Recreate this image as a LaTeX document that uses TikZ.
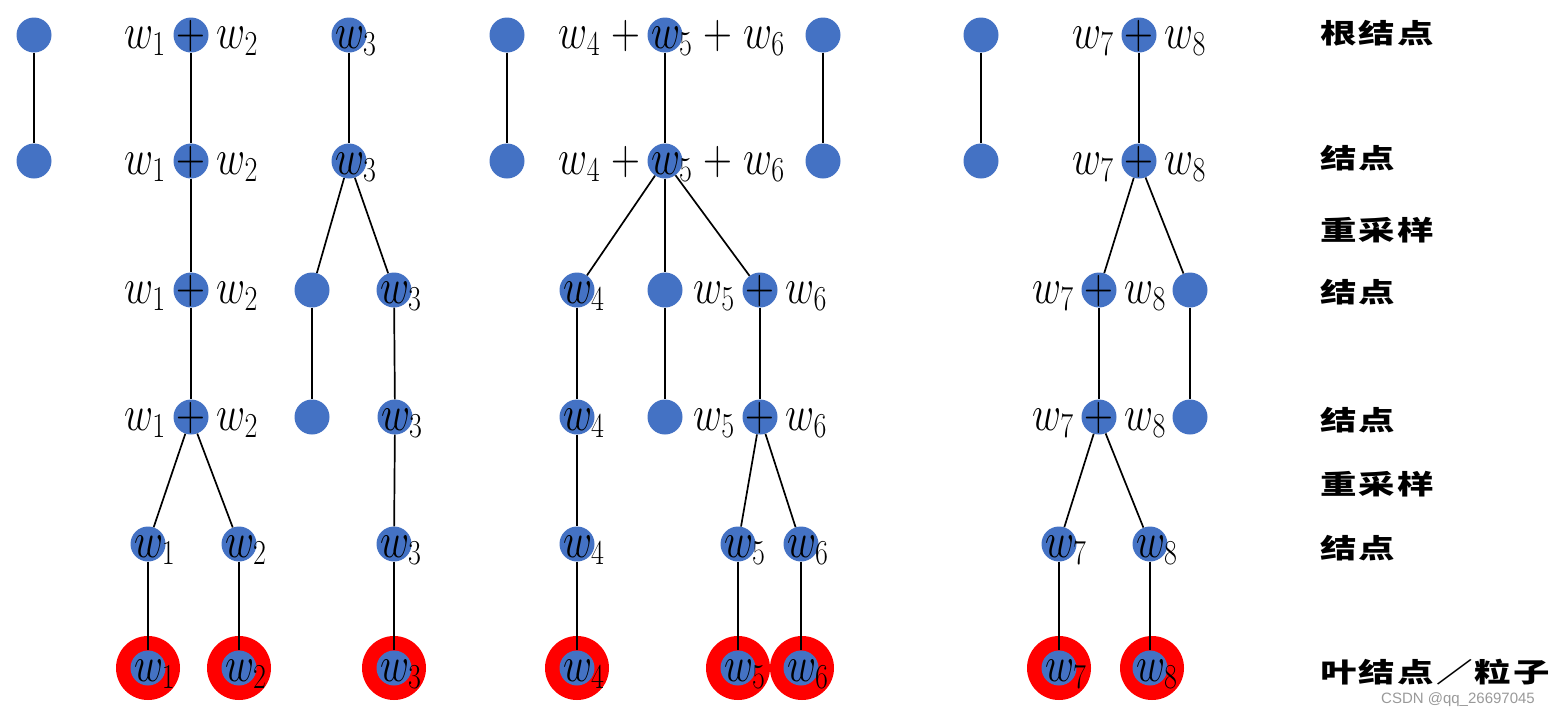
\RequirePackage{fix-cm}
\documentclass[tikz,border=0pt]{standalone}
\usepackage{fontspec}
\newfontfamily\cjk{Noto Sans CJK SC}[FakeStretch=1.35,LetterSpace=8]
\newfontfamily\wmfont{Liberation Sans}
\definecolor{nblue}{HTML}{4472C4}
\definecolor{ringred}{HTML}{FF0000}
\newcommand\sq[1]{\scalebox{0.8}[1]{#1}}
\newcommand\wc[1]{\sq{$\hphantom{{}_{#1}}w_{#1}$}}
\newcommand\pp[2]{\sq{$\medmuskip=5mu w_{#1}+w_{#2}$}}
\newcommand\ppp{\sq{$\medmuskip=5mu\hphantom{{}_5}w_4+w_5+w_6$}}
\tikzset{
  bn/.style={circle,fill=nblue,minimum size=35pt,inner sep=0pt},
  ring/.style={circle,fill=ringred,minimum size=64pt,inner sep=0pt},
  lab/.style={anchor=base,inner sep=0pt,font=\fontsize{50}{58}\selectfont},
  edge/.style={line width=1.7pt,black},
  side/.style={anchor=west,inner sep=0pt,font=\cjk\bfseries\fontsize{27}{30}\selectfont},
  wm/.style={anchor=center,inner sep=0pt,text=black!40,font=\wmfont\fontsize{15}{17}\selectfont}
}
\begin{document}
\begin{tikzpicture}[x=1pt,y=-1pt]
\useasboundingbox (0,0) rectangle (1558,718);
% ---- red rings (leaves)
\foreach \n/\x in {r1/148,r2/239,r3/394,r4/577,r5/738,r6/802,r7/1059,r8/1152}
  \node[ring] (\n) at (\x,668) {};
% ---- column A
\node[bn] (a1) at (34,35) {};
\node[bn] (a2) at (34,161) {};
% ---- column B
\node[bn] (b1) at (191,35) {};
\node[bn] (b2) at (191,161) {};
\node[bn] (b3) at (191,290) {};
\node[bn] (b4) at (191,417) {};
\node[bn] (b5) at (148,544) {};
\node[bn] (b6) at (239,544) {};
\node[bn] (b7) at (148,668) {};
\node[bn] (b8) at (239,668) {};
% ---- column C
\node[bn] (c1) at (349,35) {};
\node[bn] (c2) at (349,161) {};
\node[bn] (c3) at (312,290) {};
\node[bn] (c4) at (394,290) {};
\node[bn] (c5) at (312,417) {};
\node[bn] (c6) at (395,417) {};
\node[bn] (c7) at (394,544) {};
\node[bn] (c8) at (394,668) {};
% ---- column D
\node[bn] (d1) at (507,35) {};
\node[bn] (d2) at (507,161) {};
\node[bn] (e1) at (665,35) {};
\node[bn] (e2) at (665,161) {};
\node[bn] (f1) at (823,35) {};
\node[bn] (f2) at (823,161) {};
\node[bn] (d3) at (577,290) {};
\node[bn] (d4) at (665,290) {};
\node[bn] (d5) at (760,290) {};
\node[bn] (d6) at (577,417) {};
\node[bn] (d7) at (665,417) {};
\node[bn] (d8) at (760,417) {};
\node[bn] (d9) at (577,544) {};
\node[bn] (d10) at (738,544) {};
\node[bn] (d11) at (801,544) {};
\node[bn] (d12) at (577,668) {};
\node[bn] (d13) at (738,668) {};
\node[bn] (d14) at (801,668) {};
% ---- column E
\node[bn] (g1) at (981,35) {};
\node[bn] (g2) at (981,161) {};
\node[bn] (h1) at (1139,35) {};
\node[bn] (h2) at (1139,161) {};
\node[bn] (h3) at (1099,290) {};
\node[bn] (h4) at (1190,290) {};
\node[bn] (h5) at (1099,417) {};
\node[bn] (h6) at (1190,417) {};
\node[bn] (h7) at (1059,544) {};
\node[bn] (h8) at (1150,544) {};
\node[bn] (h9) at (1059,668) {};
\node[bn] (h10) at (1150,668) {};
% ---- connectors
\draw[edge] (a1) -- (a2);
\draw[edge] (b1) -- (b2); \draw[edge] (b2) -- (b3); \draw[edge] (b3) -- (b4);
\draw[edge] (b4) -- (b5); \draw[edge] (b4) -- (b6);
\draw[edge] (b5) -- (b7); \draw[edge] (b6) -- (b8);
\draw[edge] (c1) -- (c2); \draw[edge] (c2) -- (c3); \draw[edge] (c2) -- (c4);
\draw[edge] (c3) -- (c5); \draw[edge] (c4) -- (c6); \draw[edge] (c6) -- (c7); \draw[edge] (c7) -- (c8);
\draw[edge] (d1) -- (d2); \draw[edge] (f1) -- (f2); \draw[edge] (e1) -- (e2);
\draw[edge] (e2) -- (d3); \draw[edge] (e2) -- (d4); \draw[edge] (e2) -- (d5);
\draw[edge] (d3) -- (d6); \draw[edge] (d4) -- (d7); \draw[edge] (d5) -- (d8);
\draw[edge] (d6) -- (d9); \draw[edge] (d8) -- (d10); \draw[edge] (d8) -- (d11);
\draw[edge] (d9) -- (d12); \draw[edge] (d10) -- (d13); \draw[edge] (d11) -- (d14);
\draw[edge] (g1) -- (g2); \draw[edge] (h1) -- (h2);
\draw[edge] (h2) -- (h3); \draw[edge] (h2) -- (h4);
\draw[edge] (h3) -- (h5); \draw[edge] (h4) -- (h6);
\draw[edge] (h5) -- (h7); \draw[edge] (h5) -- (h8);
\draw[edge] (h7) -- (h9); \draw[edge] (h8) -- (h10);
% ---- labels
\foreach \n/\y in {lb1/35,lb2/161,lb3/290,lb4/417}
  \node[lab] (\n) at (191,\y+13) {\pp12};
\node[lab] (lb5) at (148,557) {\wc1};
\node[lab] (lb6) at (239,557) {\wc2};
\node[lab] (lb7) at (148,681) {\wc1};
\node[lab] (lb8) at (239,681) {\wc2};
\node[lab] (lc1) at (349,48) {\wc3};
\node[lab] (lc2) at (349,174) {\wc3};
\node[lab] (lc4) at (394,303) {\wc3};
\node[lab] (lc6) at (395,430) {\wc3};
\node[lab] (lc7) at (394,557) {\wc3};
\node[lab] (lc8) at (394,681) {\wc3};
\node[lab] (le1) at (665,48) {\ppp};
\node[lab] (le2) at (665,174) {\ppp};
\node[lab] (ld3) at (577,303) {\wc4};
\node[lab] (ld5) at (760,303) {\pp56};
\node[lab] (ld6) at (577,430) {\wc4};
\node[lab] (ld8) at (760,430) {\pp56};
\node[lab] (ld9) at (577,557) {\wc4};
\node[lab] (ld10) at (738,557) {\wc5};
\node[lab] (ld11) at (801,557) {\wc6};
\node[lab] (ld12) at (577,681) {\wc4};
\node[lab] (ld13) at (738,681) {\wc5};
\node[lab] (ld14) at (801,681) {\wc6};
\node[lab] (lh1) at (1139,48) {\pp78};
\node[lab] (lh2) at (1139,174) {\pp78};
\node[lab] (lh3) at (1099,303) {\pp78};
\node[lab] (lh5) at (1099,430) {\pp78};
\node[lab] (lh7) at (1059,557) {\wc7};
\node[lab] (lh8) at (1150,557) {\wc8};
\node[lab] (lh9) at (1059,681) {\wc7};
\node[lab] (lh10) at (1150,681) {\wc8};
% ---- side labels
\node[side] (s1) at (1320,33) {根结点};
\node[side] (s2) at (1320,158) {结点};
\node[side] (s3) at (1320,230) {重采样};
\node[side] (s4) at (1320,292) {结点};
\node[side] (s5) at (1320,420) {结点};
\node[side] (s6) at (1320,484) {重采样};
\node[side] (s7) at (1320,548) {结点};
\node[side] (s8) at (1320,672) {叶结点／粒子};
\node[wm] (wmk) at (1458,700) {CSDN @qq\_26697045};
\end{tikzpicture}
\end{document}
